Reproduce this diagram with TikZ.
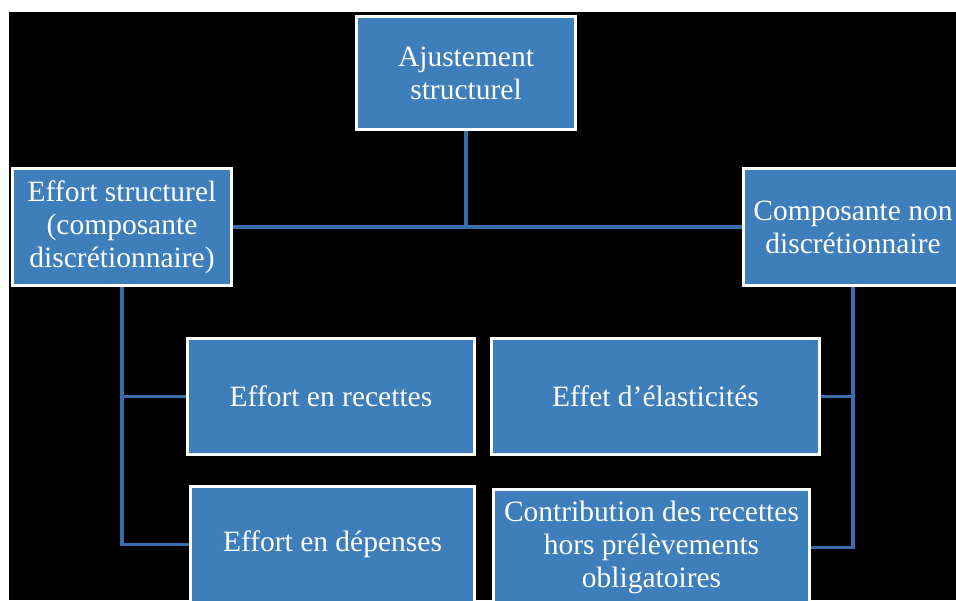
\documentclass[tikz,border=0pt]{standalone}
\usepackage{fontspec}
\setmainfont{Liberation Serif}
\definecolor{boxblue}{RGB}{61,126,187}
\definecolor{lineblue}{RGB}{57,108,172}

\begin{document}
\begin{tikzpicture}[x=1pt,y=-1pt,
  thick,main node/.style={rectangle,draw=white,line width=3pt,fill=boxblue,text=white,
    font=\fontsize{29.5}{33}\selectfont,align=center,inner sep=0pt,minimum width=219pt,minimum height=116pt},
  link/.style={draw=lineblue,line width=3.5pt}]

  \useasboundingbox (0,0) rectangle (956,600);
  \clip (0,0) rectangle (956,600);
  \fill[white] (0,0) rectangle (956,600);
  \fill[black] (9,12) rectangle (956,600);

  \node[main node,minimum height=113pt] (ajust) at (466,73) {Ajustement\\structurel};
  \node[main node,minimum height=117pt] (effstr) at (122,227) {Effort structurel\\(composante\\discrétionnaire)};
  \node[main node,minimum height=117pt] (compo) at (853,227) {Composante non\\discrétionnaire};
  \node[main node,minimum width=287pt] (recet) at (331,396.5) {Effort en recettes};
  \node[main node,minimum width=284pt] (depen) at (332.5,544.5) {Effort en dépenses};
  \node[main node,minimum width=328pt] (elast) at (655.5,396.5) {Effet d’élasticités};
  \node[main node,minimum width=316pt] (contr) at (651.5,547.5) {Contribution des recettes\\hors prélèvements\\obligatoires};

  \path[link]
    (ajust) edge (ajust |- effstr)
    (effstr) edge (compo);
  \draw[link] (effstr.south) |- (recet.west);
  \draw[link] (effstr.south) |- (depen.west);
  \draw[link] (compo.south) |- (elast.east);
  \draw[link] (compo.south) |- (contr.east);
\end{tikzpicture}
\end{document}
